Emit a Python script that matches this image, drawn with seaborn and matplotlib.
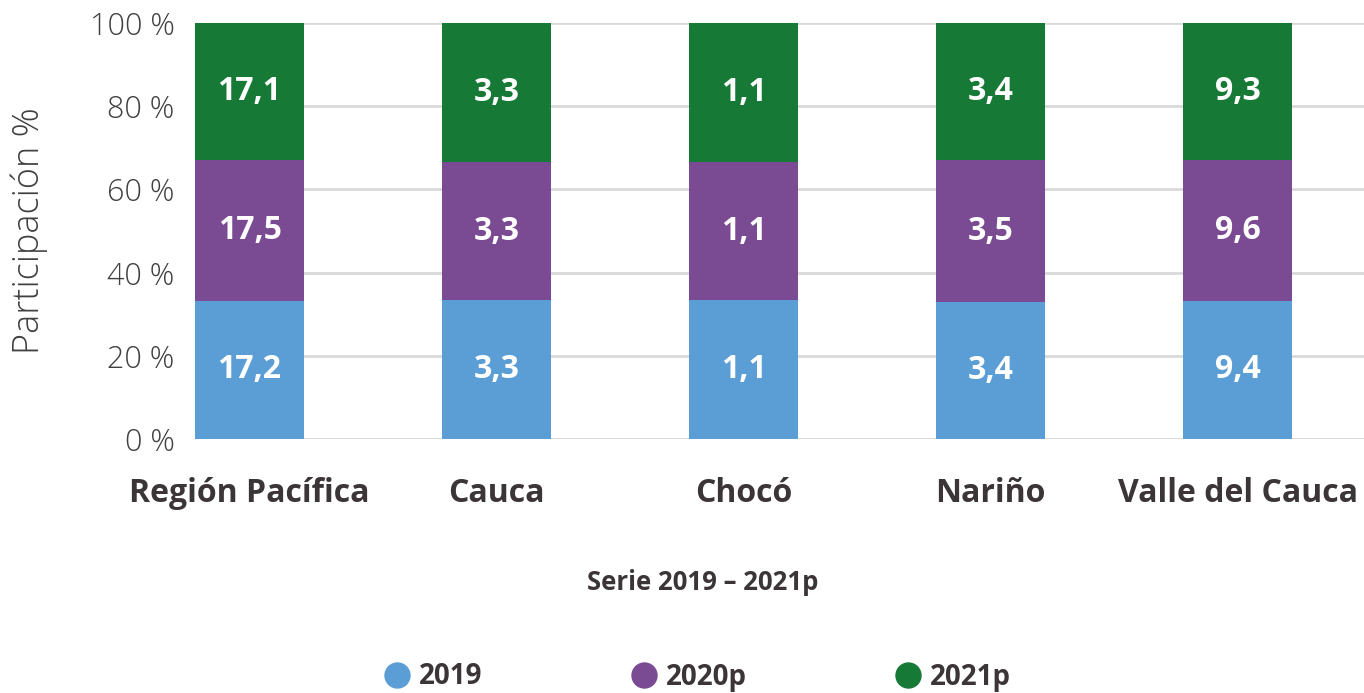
import matplotlib
matplotlib.use("Agg")
import matplotlib.pyplot as plt
from matplotlib.lines import Line2D
import seaborn as sns
import pandas as pd
import numpy as np

categories = ["Región Pacífica", "Cauca", "Chocó", "Nariño", "Valle del Cauca"]
series_names = ["2019", "2020p", "2021p"]
v2019 = [17.2, 3.3, 1.1, 3.4, 9.4]
v2020p = [17.5, 3.3, 1.1, 3.5, 9.6]
v2021p = [17.1, 3.3, 1.1, 3.4, 9.3]
yticks = [0, 20, 40, 60, 80, 100]
ytick_labels = ["0 %", "20 %", "40 %", "60 %", "80 %", "100 %"]

colors = {"2019": "#5B9ED6", "2020p": "#7A4A93", "2021p": "#167935"}

sns.set_theme(style="white")
FONT = ["Open Sans", "DejaVu Sans"]
plt.rcParams["font.family"] = FONT

vals = np.array([v2019, v2020p, v2021p], dtype=float)
totals = vals.sum(axis=0)
shares = vals / totals * 100
cum = np.cumsum(shares, axis=0)

df = pd.DataFrame({"cat": categories})
for i, s in enumerate(series_names):
    df["cum_" + s] = cum[i]

W, H = 1364, 693
fig = plt.figure(figsize=(W / 100, H / 100), dpi=100)
ax = fig.add_axes([208 / W, 1 - 439 / H, (1364 - 208) / W, (439 - 23) / H])

# draw from top cumulative down
for s in reversed(series_names):
    sns.barplot(data=df, x="cat", y="cum_" + s, order=categories, color=colors[s],
                width=0.44, errorbar=None, ax=ax, clip_on=False, linewidth=0,
                saturation=1)

# labels
for j in range(len(categories)):
    base = 0
    for i, s in enumerate(series_names):
        mid = base + shares[i][j] / 2
        base += shares[i][j]
        ax.text(j, mid, f"{vals[i][j]:.1f}".replace(".", ","), ha="center", va="center",
                color="white", fontsize=23, fontweight="bold", family=FONT)

ax.set_ylim(0, 100)
ax.set_xlim((208 - 249.5) / 247, (1364 - 249.5) / 247)
ax.set_yticks(yticks)
ax.set_yticklabels(ytick_labels)
ax.yaxis.grid(True, color="#d9d9d9", linewidth=2)
ax.set_axisbelow(True)
for sp in ax.spines.values():
    sp.set_visible(False)
ax.tick_params(axis="y", length=0, pad=24, labelsize=22, labelcolor="#404040")
ax.tick_params(axis="x", length=0, pad=27, labelsize=23, labelcolor="#3b3538")
for t in ax.get_yticklabels():
    t.set_fontweight("light")
for t in ax.get_xticklabels():
    t.set_fontweight("bold")
ax.set_xlabel("")
ax.set_ylabel("")

fig.text(29 / W, 1 - 231 / H, "Participación %", rotation=90, ha="center", va="center",
         fontsize=26, fontweight="light", color="#404040")
fig.text(703 / W, 1 - 582 / H, "Serie 2019 – 2021p", ha="center", va="center",
         fontsize=18.5, fontweight="bold", color="#3b3538")

handles = [Line2D([], [], marker="o", linestyle="", markersize=19, color=colors[s],
                  markeredgewidth=0) for s in series_names]
leg = fig.legend(handles, series_names, loc="center", bbox_to_anchor=(697 / W, 1 - 677 / H),
                 ncol=3, frameon=False, fontsize=20, handlelength=1.0, handletextpad=0.3,
                 columnspacing=5.3)
for t in leg.get_texts():
    t.set_fontweight("bold")
    t.set_color("#3b3538")

fig.savefig("out.png", dpi=100)
